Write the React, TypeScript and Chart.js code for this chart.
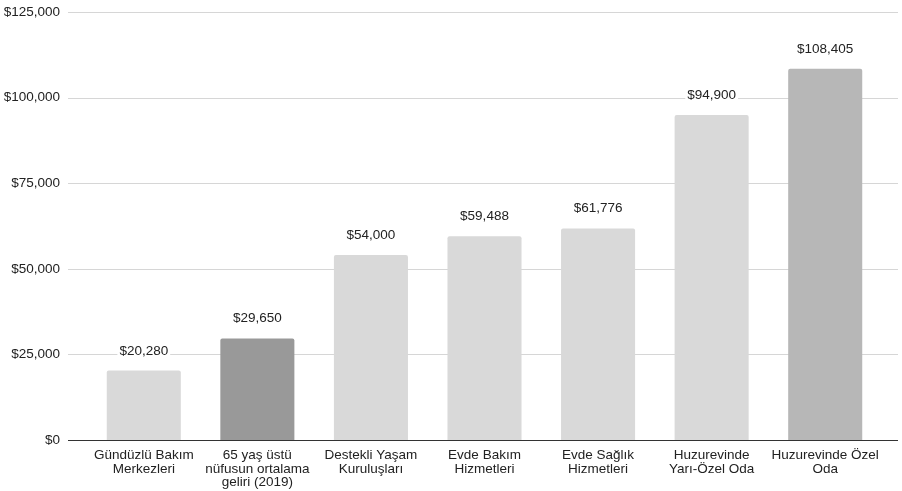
import React, { useEffect, useRef } from "react";
import { Chart, registerables } from "chart.js";

Chart.register(...registerables);

const categories: string[][] = [
  ["Gündüzlü Bakım", "Merkezleri"],
  ["65 yaş üstü", "nüfusun ortalama", "geliri (2019)"],
  ["Destekli Yaşam", "Kuruluşları"],
  ["Evde Bakım", "Hizmetleri"],
  ["Evde Sağlık", "Hizmetleri"],
  ["Huzurevinde", "Yarı-Özel Oda"],
  ["Huzurevinde Özel", "Oda"],
];
const values: number[] = [20280, 29650, 54000, 59488, 61776, 94900, 108405];
const barColors: string[] = ["#d9d9d9", "#999999", "#d9d9d9", "#d9d9d9", "#d9d9d9", "#d9d9d9", "#b7b7b7"];
const yTicks: number[] = [0, 25000, 50000, 75000, 100000, 125000];

const FONT = "'Liberation Sans', Arial, sans-serif";
const FS = 13.5;
const fmt = (v: number) => "$" + v.toLocaleString("en-US");

const GRID_LEFT = 68;
const GRID_RIGHT = 898;

const gridPlugin = {
  id: "customGrid",
  beforeDatasetsDraw(chart: any) {
    const { ctx, scales } = chart;
    const y = scales.y;
    ctx.save();
    yTicks.forEach((t) => {
      const py = Math.round(y.getPixelForValue(t)) + 0.5;
      ctx.beginPath();
      ctx.strokeStyle = t === 0 ? "#333333" : "#d6d6d6";
      ctx.lineWidth = 1;
      ctx.moveTo(GRID_LEFT, py);
      ctx.lineTo(GRID_RIGHT, py);
      ctx.stroke();
    });
    ctx.restore();
  },
  afterDatasetsDraw(chart: any) {
    const { ctx, scales } = chart;
    const y = scales.y;
    const y0 = Math.round(y.getPixelForValue(0)) + 0.5;
    ctx.save();
    ctx.beginPath();
    ctx.strokeStyle = "#333333";
    ctx.lineWidth = 1;
    ctx.moveTo(GRID_LEFT, y0);
    ctx.lineTo(GRID_RIGHT, y0);
    ctx.stroke();
    // data labels
    const meta = chart.getDatasetMeta(0);
    ctx.font = `${FS}px ${FONT}`;
    ctx.textAlign = "center";
    ctx.textBaseline = "alphabetic";
    meta.data.forEach((bar: any, i: number) => {
      const text = fmt(values[i]);
      const cx = bar.x;
      const base = bar.y - 16;
      const w = ctx.measureText(text).width;
      ctx.fillStyle = "#ffffff";
      ctx.fillRect(cx - w / 2 - 2, base - 12, w + 4, 15);
      ctx.fillStyle = "#222222";
      ctx.fillText(text, cx, base);
    });
    ctx.restore();
  },
};

export default function App() {
  const ref = useRef<HTMLCanvasElement | null>(null);
  useEffect(() => {
    document.body.style.margin = "0";
    if (!ref.current) return;
    const chart = new Chart(ref.current, {
      type: "bar",
      data: {
        labels: categories,
        datasets: [
          {
            data: values,
            backgroundColor: barColors,
            borderRadius: 2,
            borderSkipped: "bottom",
            barPercentage: 0.652,
            categoryPercentage: 1,
          },
        ],
      },
      options: {
        animation: false,
        responsive: false,
        maintainAspectRatio: false,
        layout: { padding: { left: 0, right: 20, top: 12, bottom: 0 } },
        plugins: {
          legend: { display: false },
          tooltip: { enabled: false },
        },
        scales: {
          x: {
            grid: { display: false, drawTicks: false },
            border: { display: false },
            afterFit(scale: any) {
              scale.height = 51;
              scale.paddingLeft = 0;
              scale.paddingRight = 0;
            },
            ticks: {
              color: "#222222",
              font: { family: FONT, size: FS, lineHeight: 1.0 },
              maxRotation: 0,
              autoSkip: false,
              padding: 9,
            },
          },
          y: {
            min: 0,
            max: 125000,
            grid: { display: false, drawTicks: false },
            border: { display: false },
            afterFit(scale: any) {
              scale.width = 87;
              scale.paddingTop = 0;
              scale.paddingBottom = 0;
            },
            ticks: {
              stepSize: 25000,
              color: "#222222",
              font: { family: FONT, size: FS },
              padding: 27,
              callback: (v: any) => fmt(Number(v)),
            },
          },
        },
      },
      plugins: [gridPlugin],
    });
    return () => chart.destroy();
  }, []);
  return (
    <div style={{ width: 902, height: 491 }}>
      <canvas ref={ref} width={902} height={491} style={{ width: 902, height: 491 }} />
    </div>
  );
}
